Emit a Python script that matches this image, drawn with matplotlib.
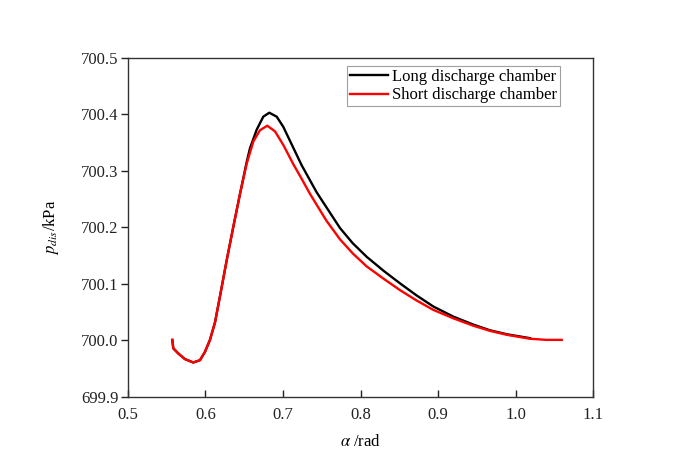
import numpy as np
import matplotlib.pyplot as plt

# ============ Data ============
alpha_short = [0.5572, 0.5585, 0.5649, 0.5735, 0.5843, 0.5929, 0.5994, 0.6058, 0.6123,
               0.6187, 0.6274, 0.6359, 0.6445, 0.6532, 0.6617, 0.6703, 0.6797, 0.6897,
               0.7004, 0.7133, 0.7241, 0.735, 0.756, 0.7735, 0.79, 0.808, 0.83, 0.851,
               0.872, 0.894, 0.92, 0.9456, 0.967, 0.9886, 1.0187, 1.04, 1.0596]
p_short = [700.001, 699.986, 699.977, 699.967, 699.961, 699.965, 699.980, 700.001, 700.032,
           700.078, 700.142, 700.201, 700.259, 700.313, 700.352, 700.372, 700.380, 700.370,
           700.346, 700.312, 700.286, 700.259, 700.212, 700.179, 700.154, 700.131, 700.109, 700.089,
           700.071, 700.054, 700.039, 700.026, 700.017, 700.010, 700.003, 700.001, 700.001]

alpha_long = [0.5572, 0.5585, 0.5649, 0.5735, 0.5843, 0.5929, 0.5994, 0.6058, 0.6123,
              0.6187, 0.6274, 0.6359, 0.6445, 0.6532, 0.6574, 0.6661, 0.6746, 0.6823,
              0.6919, 0.7004, 0.7112, 0.7241, 0.7435, 0.7735, 0.79, 0.808, 0.83, 0.851,
              0.872, 0.894, 0.92, 0.9456, 0.967, 0.9886, 1.0187]
p_long = [700.001, 699.986, 699.977, 699.967, 699.961, 699.965, 699.980, 700.001, 700.032,
          700.078, 700.142, 700.201, 700.259, 700.316, 700.340, 700.373, 700.396, 700.403,
          700.396, 700.378, 700.347, 700.310, 700.262, 700.199, 700.172, 700.148, 700.123, 700.101,
          700.080, 700.060, 700.042, 700.028, 700.018, 700.011, 700.004]

xticks = [0.5, 0.6, 0.7, 0.8, 0.9, 1.0, 1.1]
yticks = [699.9, 700.0, 700.1, 700.2, 700.3, 700.4, 700.5]

plt.rcParams['font.family'] = 'Liberation Serif'
plt.rcParams['mathtext.fontset'] = 'stix'

fig = plt.figure(figsize=(6.77, 4.67), dpi=100)
ax = fig.add_axes([0.189, 0.150, 0.687, 0.726])

ax.plot(alpha_long, p_long, color='black', lw=1.7, label='Long discharge chamber')
ax.plot(alpha_short, p_short, color='red', lw=1.7, label='Short discharge chamber')

ax.set_xlim(0.5, 1.1)
ax.set_ylim(699.9, 700.5)
ax.set_xticks(xticks)
ax.set_xticklabels(['%.1f' % v for v in xticks])
ax.set_yticks(yticks)
ax.set_yticklabels(['%.1f' % v for v in yticks])

ax.tick_params(axis='x', direction='in', length=5, width=1, labelsize=12, pad=7, colors='#222222')
ax.tick_params(axis='y', direction='out', length=5, width=1, labelsize=12, pad=2, colors='#222222')
for s in ax.spines.values():
    s.set_color('#333333')
    s.set_linewidth(1)

ax.set_xlabel(r'$\alpha$ /rad', fontsize=12, labelpad=8)
ax.set_ylabel(r'$p_{dis}$/kPa', fontsize=12, labelpad=14)

leg = ax.legend(loc='upper left', bbox_to_anchor=(0.472, 0.975), fontsize=12,
                frameon=True, fancybox=False, handlelength=2.3, handletextpad=0.25,
                borderpad=0.15, labelspacing=0.15, borderaxespad=0)
leg.get_frame().set_edgecolor('#888888')
leg.get_frame().set_linewidth(0.8)

fig.savefig('out.png', dpi=100, facecolor='white')
